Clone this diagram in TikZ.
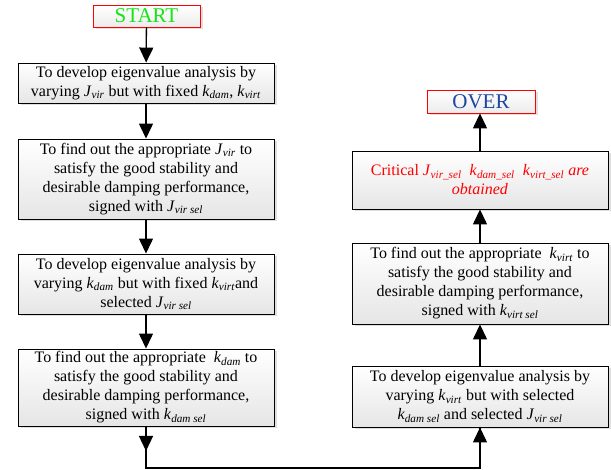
\documentclass[tikz,border=0pt]{standalone}
\usepackage{fontspec}
\setmainfont{Liberation Serif}
\usetikzlibrary{arrows.meta,shadows}
\definecolor{startgreen}{RGB}{20,230,20}
\definecolor{overblue}{RGB}{30,70,160}
\definecolor{critred}{RGB}{255,0,0}
\newcommand\vv[2]{\textit{#1}\textsubscript{\textit{#2}}}
\tikzset{
  stepbox/.style={draw=black, line width=0.9pt, rectangle, inner sep=0pt,
    align=center, minimum width=256pt, top color=white, bottom color=gray!20,
    font=\fontsize{16}{19}\selectfont,
    drop shadow={opacity=0.25, shadow xshift=2.5pt, shadow yshift=-2.5pt}},
  termbox/.style={draw=red, line width=0.9pt, rectangle, inner sep=0pt,
    minimum width=107pt, minimum height=22pt, top color=white, bottom color=gray!15,
    font=\fontsize{21}{24}\selectfont,
    drop shadow={opacity=0.25, shadow xshift=2.5pt, shadow yshift=-2.5pt}},
  arr/.style={line width=1.3pt, -{Triangle[width=14pt,length=15pt]}},
  ln/.style={line width=1.3pt}
}
\begin{document}
\begin{tikzpicture}[x=1pt,y=1pt]
\useasboundingbox (0,0) rectangle (611,470);
% left column
\node[termbox, text=startgreen] (start) at (146.5,454) {START};
\node[stepbox, minimum height=40pt] (b1) at (146,387)
  {To develop eigenvalue analysis by\\varying \vv{J}{vir} but with fixed \vv{k}{dam}, \vv{k}{virt}};
\node[stepbox, minimum height=80pt] (b2) at (146,291)
  {To find out the appropriate \vv{J}{vir} to\\satisfy the good stability and\\desirable damping performance,\\signed with \vv{J}{vir sel}};
\node[stepbox, minimum height=60pt] (b3) at (146,186)
  {To develop eigenvalue analysis by\\varying \vv{k}{dam} but with fixed \vv{k}{virt}and\\selected \vv{J}{vir sel}};
\node[stepbox, minimum height=77pt] (b4) at (146,82.5)
  {To find out the appropriate \ \vv{k}{dam} to\\satisfy the good stability and\\desirable damping performance,\\signed with \vv{k}{dam sel}};
% right column
\node[stepbox, minimum height=61pt] (r1) at (480,73.5)
  {To develop eigenvalue analysis by\\varying \vv{k}{virt} but with selected\\\vv{k}{dam sel} and selected \vv{J}{vir sel}};
\node[stepbox, minimum height=81pt] (r2) at (480,186.5)
  {To find out the appropriate \ \vv{k}{virt} to\\satisfy the good stability and\\desirable damping performance,\\signed with \vv{k}{virt sel}};
\node[stepbox, minimum height=58pt, text=critred] (r3) at (480,290)
  {Critical \vv{J}{vir\_sel} \ \vv{k}{dam\_sel} \ \vv{k}{virt\_sel} \textit{are}\\\textit{obtained}};
\node[termbox, text=overblue, minimum width=108pt, minimum height=23pt] (over) at (481,368.5) {OVER};
% connectors
\draw[arr] (start) -- (b1);
\draw[arr] (b1) -- (b2);
\draw[arr] (b2) -- (b3);
\draw[arr] (b3) -- (b4);
\coordinate (m1) at (146,19);
\coordinate (c1) at (146,2);
\coordinate (c2) at (480,2);
\draw[ln] (b4.south) -- (c1) -- (c2) -- (r1.south);
\draw[arr] (b4.south) -- (m1);
\draw[arr] (c2) -- (r1.south);
\draw[arr] (r1) -- (r2);
\draw[arr] (r2) -- (r3);
\draw[arr] (r3.north) -- (r3.north |- over.south);
\end{tikzpicture}
\end{document}
